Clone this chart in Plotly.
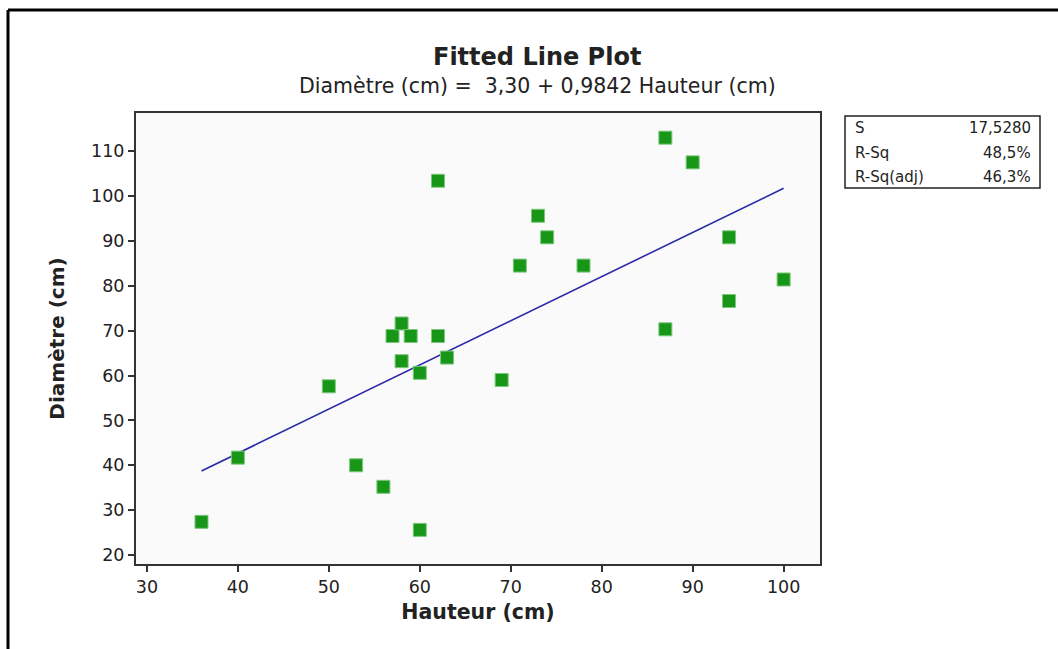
import plotly.graph_objects as go

# Data
hauteur = [36, 40, 50, 53, 56, 57, 58, 58, 59, 60, 60, 62, 62, 63, 69,
           71, 73, 74, 78, 87, 87, 90, 94, 94, 100]
diametre = [27.4, 41.7, 57.6, 40.0, 35.2, 68.8, 71.6, 63.2, 68.8, 60.6, 25.6, 103.4, 68.8, 64.0, 59.0,
            84.5, 95.6, 90.8, 84.5, 113.0, 70.3, 107.5, 90.8, 76.6, 81.4]

intercept = 3.30
slope = 0.9842

stat_labels = ["S", "R-Sq", "R-Sq(adj)"]
stat_values = ["17,5280", "48,5%", "46,3%"]

x_ticks = [30, 40, 50, 60, 70, 80, 90, 100]
y_ticks = [20, 30, 40, 50, 60, 70, 80, 90, 100, 110]

FONT = "DejaVu Sans"

x_fit = [min(hauteur), max(hauteur)]
y_fit = [intercept + slope * v for v in x_fit]

fig = go.Figure()
fig.add_trace(go.Scatter(
    x=x_fit, y=y_fit, mode="lines",
    line=dict(color="#2a2aa8", width=1.6),
    showlegend=False, hoverinfo="skip"))
fig.add_trace(go.Scatter(
    x=hauteur, y=diametre, mode="markers",
    marker=dict(symbol="square", size=13, color="#179617",
                line=dict(color="#7cc77c", width=1)),
    showlegend=False))

L, R, T, B = 136, 238, 113, 85
W, H = 1058, 649
pw = W - L - R
ph = H - T - B

def px_x(px):
    return (px - L) / pw

def px_y(py):
    return (H - B - py) / ph

axis_common = dict(
    showgrid=False, zeroline=False, showline=True, linecolor="#333333", linewidth=2,
    mirror=True, ticks="outside", ticklen=6, tickwidth=2, tickcolor="#333333",
    tickfont=dict(family=FONT, size=17.5, color="#222222"),
)

fig.update_xaxes(range=[28.8, 104.0], tickvals=x_ticks, **axis_common,
                 title=dict(text="<b>Hauteur (cm)</b>", font=dict(family=FONT, size=20.5, color="#222222"),
                            standoff=9))
fig.update_yaxes(range=[18.0, 118.5], tickvals=y_ticks, **axis_common,
                 title=dict(text="<b>Diamètre (cm)</b>", font=dict(family=FONT, size=20, color="#222222"),
                            standoff=21))

annotations = [
    dict(text="<b>Fitted Line Plot</b>", x=px_x(537), y=px_y(57), xref="paper", yref="paper",
         showarrow=False, font=dict(family=FONT, size=24, color="#222222"), xanchor="center", yanchor="middle"),
    dict(text=f"Diamètre (cm) =  {intercept:.2f}".replace(".", ",") + f" + {slope:.4f}".replace(".", ",") + " Hauteur (cm)",
         x=px_x(537), y=px_y(86), xref="paper", yref="paper",
         showarrow=False, font=dict(family=FONT, size=20.5, color="#222222"), xanchor="center", yanchor="middle"),
]
row_y = [128, 153, 177]
for lab, val, ry in zip(stat_labels, stat_values, row_y):
    annotations.append(dict(text=lab, x=px_x(853), y=px_y(ry), xref="paper", yref="paper",
                            showarrow=False, xanchor="left", yanchor="middle",
                            font=dict(family=FONT, size=15, color="#222222")))
    annotations.append(dict(text=val, x=px_x(1033), y=px_y(ry), xref="paper", yref="paper",
                            showarrow=False, xanchor="right", yanchor="middle",
                            font=dict(family=FONT, size=15, color="#222222")))

shapes = [
    dict(type="rect", xref="paper", yref="paper", x0=px_x(845), x1=px_x(1040),
         y0=px_y(188), y1=px_y(116), line=dict(color="#222222", width=1.5), fillcolor="white", layer="above"),
    # outer frame
    dict(type="line", xref="paper", yref="paper", x0=px_x(8), x1=px_x(1060), y0=px_y(10), y1=px_y(10),
         line=dict(color="black", width=3)),
    dict(type="line", xref="paper", yref="paper", x0=px_x(8), x1=px_x(8), y0=px_y(10), y1=px_y(652),
         line=dict(color="black", width=3)),
]

fig.update_layout(
    width=W, height=H,
    margin=dict(l=L, r=R, t=T, b=B),
    paper_bgcolor="white", plot_bgcolor="#fafafa",
    annotations=annotations, shapes=shapes,
    font=dict(family=FONT),
)

fig.write_html("out.html")
